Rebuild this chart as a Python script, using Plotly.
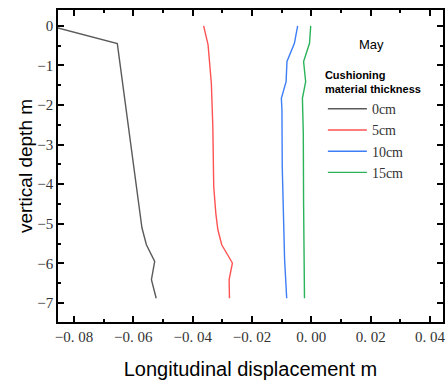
import plotly.graph_objects as go

# 0 cm
depth_0 = [-0.05, -0.45, -5.10, -5.53, -5.95, -6.41, -6.88]
disp_0 = [-0.0856, -0.0654, -0.0571, -0.0556, -0.0528, -0.0539, -0.0523]
# 5 cm
depth_5 = [0.0, -0.48, -1.45, -2.54, -4.06, -4.73, -5.15, -5.53, -5.99, -6.41, -6.88]
disp_5 = [-0.0363, -0.0348, -0.0337, -0.0332, -0.0329, -0.0322, -0.0315, -0.0302, -0.0266, -0.0277, -0.0276]
# 10 cm
depth_10 = [0.0, -0.44, -0.90, -1.41, -1.83, -2.12, -3.55, -5.07, -5.91, -6.88]
disp_10 = [-0.0046, -0.0057, -0.0082, -0.0085, -0.0101, -0.0099, -0.0098, -0.0094, -0.0090, -0.0083]
# 15 cm
depth_15 = [0.0, -0.44, -0.90, -1.41, -1.83, -2.71, -4.48, -6.88]
disp_15 = [-0.0002, -0.0006, -0.0026, -0.0019, -0.0030, -0.0027, -0.0026, -0.0023]

series_names = ["0cm", "5cm", "10cm", "15cm"]
colors = ["#5a5a5a", "#ff5252", "#3d7ef5", "#2bb35a"]

x_tickvals = [-0.08, -0.06, -0.04, -0.02, 0.0, 0.02, 0.04]
x_ticktext = ["\u22120. 08", "\u22120. 06", "\u22120. 04", "\u22120. 02", "0. 00", "0. 02", "0. 04"]
y_tickvals = [0, -1, -2, -3, -4, -5, -6, -7]
y_ticktext = ["0", "\u22121", "\u22122", "\u22123", "\u22124", "\u22125", "\u22126", "\u22127"]

fig = go.Figure()
for xs, ys, name, c in zip([disp_0, disp_5, disp_10, disp_15],
                           [depth_0, depth_5, depth_10, depth_15],
                           series_names, colors):
    fig.add_trace(go.Scatter(x=xs, y=ys, mode="lines", name=name,
                             line=dict(color=c, width=1.4)))

axis_common = dict(showline=True, linecolor="black", linewidth=1.5, mirror="allticks",
                   ticks="inside", ticklen=6, tickwidth=1.5, tickcolor="black",
                   showgrid=False, zeroline=False,
                   tickfont=dict(family="Liberation Serif", size=15, color="#333"))

fig.update_xaxes(range=[-0.0854, 0.0444], tickvals=x_tickvals, ticktext=x_ticktext,
                 minor=dict(ticks="inside", ticklen=3, dtick=0.01, tick0=0, tickcolor="black"),
                 title=dict(text="Longitudinal displacement m",
                            font=dict(family="Liberation Sans", size=20, color="black"),
                            standoff=18),
                 **axis_common)
fig.update_yaxes(range=[-7.48, 0.4], tickvals=y_tickvals, ticktext=y_ticktext,
                 minor=dict(ticks="inside", ticklen=3, dtick=0.5, tick0=0, tickcolor="black"),
                 title=dict(text="vertical depth m",
                            font=dict(family="Liberation Sans", size=19, color="black"),
                            standoff=0),
                 **axis_common)

fig.add_annotation(text="May", xref="paper", yref="paper", x=0.814, y=0.891,
                   xanchor="center", yanchor="middle",
                   showarrow=False, font=dict(family="Liberation Sans", size=13, color="black"))

fig.update_layout(
    width=448, height=383,
    margin=dict(l=58, r=3, t=10, b=61),
    plot_bgcolor="white", paper_bgcolor="white",
    legend=dict(x=0.688, y=0.825, xanchor="left", yanchor="top",
                bgcolor="rgba(0,0,0,0)", tracegroupgap=0, itemwidth=39,
                title=dict(text="<b>Cushioning<br>material thickness</b>",
                           font=dict(family="Liberation Sans", size=11, color="black")),
                font=dict(family="Liberation Serif", size=14, color="#333")),
)

fig.write_html("out.html")
